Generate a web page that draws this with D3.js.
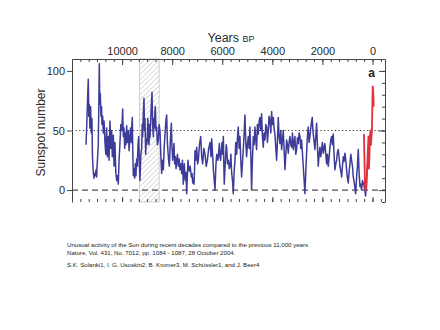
<!DOCTYPE html>
<html>
<head>
<meta charset="utf-8">
<script src="https://cdn.jsdelivr.net/npm/d3@7"></script>
<style>
  body { margin: 0; background: #fff; }
  text { font-family: "Liberation Sans", Arial, Helvetica, sans-serif; }
</style>
</head>
<body>
<svg id="chart" width="440" height="330"></svg>
<script>
// Sunspot number reconstructed from 14C, decadal, [years BP, sunspot number]
const reconstruction = [
  [11440,38],[11410,55],[11380,75],[11350,93],[11330,62],[11310,72],[11285,52],[11256,70],
  [11230,48],[11203,60],[11185,30],[11160,18],[11123,10],[11100,14],[11070,12],[11040,17],
  [11016,11],[10995,22],[10976,28],[10950,38],[10930,70],[10910,106],[10890,72],[10870,81],
  [10843,62],[10820,70],[10803,55],[10775,62],[10750,48],[10720,58],[10683,40],[10650,30],
  [10617,52],[10590,28],[10550,45],[10520,25],[10484,58],[10450,35],[10417,50],[10390,28],
  [10350,46],[10320,20],[10284,40],[10250,15],[10217,8],[10185,12],[10151,5],[10120,25],
  [10084,40],[10050,55],[10017,50],[9995,58],[9977,68],[9950,45],[9924,52],[9895,35],
  [9871,48],[9845,38],[9818,54],[9785,40],[9751,50],[9720,33],[9684,45],[9660,52],
  [9631,40],[9610,55],[9591,61],[9570,30],[9551,12],[9525,18],[9498,10],[9470,22],
  [9445,12],[9420,26],[9391,20],[9365,38],[9338,45],[9310,22],[9285,8],[9250,30],
  [9218,35],[9195,55],[9178,45],[9150,65],[9125,77],[9105,50],[9085,60],[9058,30],
  [9035,42],[9018,38],[8992,45],[8970,60],[8952,42],[8925,38],[8905,55],[8885,44],
  [8858,58],[8835,70],[8805,82],[8780,55],[8752,45],[8730,60],[8712,52],[8690,65],
  [8672,70],[8645,50],[8619,53],[8590,38],[8552,42],[8520,55],[8486,50],[8450,28],
  [8419,14],[8385,25],[8352,17],[8320,35],[8286,47],[8250,58],[8219,63],[8190,40],
  [8166,32],[8140,25],[8113,20],[8075,40],[8033,56],[8005,35],[7980,25],[7955,30],
  [7927,39],[7900,22],[7873,28],[7845,18],[7820,24],[7790,30],[7753,20],[7720,26],
  [7687,17],[7650,22],[7620,14],[7590,25],[7554,5],[7530,18],[7514,22],[7490,12],
  [7474,8],[7445,15],[7420,-3],[7395,10],[7367,25],[7340,18],[7314,16],[7280,20],
  [7234,11],[7205,14],[7180,6],[7150,10],[7127,5],[7105,18],[7087,33],[7055,25],
  [7020,36],[6985,22],[6954,25],[6910,38],[6860,45],[6820,28],[6780,22],[6735,35],
  [6687,30],[6640,20],[6594,25],[6540,35],[6487,40],[6450,28],[6421,43],[6385,30],
  [6354,17],[6320,8],[6288,0],[6255,20],[6221,30],[6170,25],[6115,39],[6090,28],
  [6061,25],[6030,35],[6008,40],[5980,30],[5955,45],[5935,20],[5920,5],[5890,18],
  [5860,30],[5840,38],[5821,35],[5790,22],[5755,25],[5720,18],[5688,20],[5655,30],
  [5626,15],[5590,8],[5559,-3],[5525,15],[5492,25],[5460,40],[5425,30],[5390,45],
  [5359,53],[5325,35],[5293,45],[5260,25],[5226,11],[5195,22],[5160,34],[5125,48],
  [5093,63],[5060,40],[5027,28],[4995,38],[4960,45],[4925,35],[4894,53],[4860,30],
  [4827,0],[4795,25],[4760,45],[4725,38],[4694,53],[4660,42],[4627,34],[4595,55],
  [4561,47],[4525,58],[4494,61],[4460,50],[4428,64],[4395,45],[4361,36],[4330,48],
  [4295,42],[4260,55],[4228,53],[4195,40],[4161,50],[4130,62],[4095,59],[4060,48],
  [4028,66],[3995,55],[3962,61],[3930,52],[3895,47],[3860,35],[3829,25],[3795,42],
  [3762,61],[3730,45],[3696,39],[3660,50],[3629,34],[3595,42],[3563,50],[3530,35],
  [3496,17],[3460,30],[3429,42],[3395,38],[3363,31],[3330,40],[3296,45],[3260,38],
  [3230,36],[3195,48],[3163,34],[3130,40],[3097,45],[3065,30],[3030,34],[2995,44],
  [2964,39],[2930,48],[2897,45],[2865,35],[2831,42],[2800,32],[2764,20],[2730,8],
  [2697,-3],[2665,15],[2631,31],[2600,45],[2564,53],[2530,40],[2498,45],[2450,55],
  [2405,61],[2385,52],[2365,47],[2330,40],[2298,34],[2265,45],[2232,56],[2200,38],
  [2165,20],[2130,30],[2098,36],[2065,28],[2032,34],[2000,40],[1965,31],[1930,36],
  [1899,39],[1865,30],[1832,22],[1800,30],[1766,20],[1730,28],[1699,36],[1665,42],
  [1633,45],[1600,38],[1566,47],[1535,30],[1500,17],[1465,22],[1433,25],[1400,32],
  [1366,34],[1335,28],[1300,20],[1265,16],[1233,11],[1200,20],[1167,28],[1135,24],
  [1100,31],[1065,25],[1034,17],[1000,10],[967,6],[935,15],[901,22],[865,30],
  [834,25],[800,20],[767,11],[720,5],[674,-3],[650,5],[634,11],[600,20],
  [568,34],[535,15],[501,3],[470,5],[435,0],[400,8],[368,6],[320,2],
  [275,-5],[250,3],[235,11],[200,20],[169,28],[135,35],[102,42],[70,38],
  [35,50],[20,52]
];

// Group sunspot number from telescope observations, [years BP, sunspot number]
const telescope = [
  [340,47],[320,25],[300,5],[280,0],[260,0],[240,3],[220,15],[200,25],
  [180,35],[160,45],[140,18],[120,30],[100,45],[80,50],[60,38],[40,45],
  [20,52],[0,78],[-10,87],[-30,82],[-50,70]
];

const yearLabels = [10000, 8000, 6000, 4000, 2000, 0];
const sunspotLabels = [0, 50, 100];
const sunspotMinor = [-10, 0, 10, 20, 30, 40, 50, 60, 70, 80, 90, 100, 110];
const hatchedSpan = [9300, 8520];

const caption = [
  "Unusual activity of the Sun during recent decades compared to the previous 11,000 years",
  "Nature, Vol. 431, No. 7012, pp. 1084 - 1087, 28 October 2004.",
  "S.K. Solanki1, I. G. Usoskin2, B. Kromer3, M. Schüssler1, and J. Beer4"
];

const svg = d3.select("#chart");
const L = 72, R = 385, T = 59, B = 202;
const axisColor = "#444";
const textColor = "#2a2a2a";

const x = d3.scaleLinear().domain([12000, -500]).range([L, R]);
const y = d3.scaleLinear().domain([-10, 110]).range([B, T]);

// minor year ticks: six steps between labelled ticks
const yearMinor = d3.range(-1, 37).map(k => k * 2000 / 6)
  .filter(v => v > -500 && v < 12000);

// hatched interval
const defs = svg.append("defs");
const pat = defs.append("pattern")
  .attr("id", "hatch").attr("patternUnits", "userSpaceOnUse")
  .attr("width", 3.6).attr("height", 3.6)
  .attr("patternTransform", "rotate(45)");
pat.append("line").attr("x1", 0).attr("y1", 0).attr("x2", 0).attr("y2", 3.6)
  .attr("stroke", "#b8b8b8").attr("stroke-width", 1);

defs.append("clipPath").attr("id", "plot")
  .append("rect").attr("x", L).attr("y", T).attr("width", R - L).attr("height", B - T);

svg.append("rect")
  .attr("x", x(hatchedSpan[0])).attr("y", T)
  .attr("width", x(hatchedSpan[1]) - x(hatchedSpan[0])).attr("height", B - T)
  .attr("fill", "url(#hatch)").attr("stroke", "#c4c4c4").attr("stroke-width", 0.8);

// reference levels
svg.append("line").attr("x1", L).attr("x2", R).attr("y1", y(50)).attr("y2", y(50))
  .attr("stroke", "#333").attr("stroke-width", 1).attr("stroke-dasharray", "1.2,2.4");
svg.append("line").attr("x1", L).attr("x2", R).attr("y1", y(0)).attr("y2", y(0))
  .attr("stroke", "#222").attr("stroke-width", 1).attr("stroke-dasharray", "6,4");

// series
const line = d3.line().x(d => x(d[0])).y(d => y(d[1]));
const g = svg.append("g").attr("clip-path", "url(#plot)");
g.append("path").datum(reconstruction).attr("d", line)
  .attr("fill", "none").attr("stroke", "#3d3c99").attr("stroke-width", 1.5)
  .attr("stroke-linejoin", "round");
g.append("path").datum(telescope).attr("d", line)
  .attr("fill", "none").attr("stroke", "#e0313c").attr("stroke-width", 1.8)
  .attr("stroke-linejoin", "round");

// axes
function styleAxis(sel) {
  sel.selectAll("line").attr("stroke", axisColor);
  sel.selectAll("path.domain").attr("stroke", axisColor);
  sel.selectAll("text").attr("fill", textColor)
    .style("font-family", '"Liberation Sans", Arial, sans-serif');
}

// top: labelled, ticks pointing inward
svg.append("g").attr("transform", `translate(0,${T})`)
  .call(d3.axisTop(x).tickValues(yearMinor).tickSize(-3).tickFormat("").tickSizeOuter(0))
  .call(styleAxis);
svg.append("g").attr("transform", `translate(0,${T})`)
  .call(d3.axisTop(x).tickValues(yearLabels).tickSize(-6).tickPadding(4).tickSizeOuter(0)
    .tickFormat(d3.format("d")))
  .call(s => s.select(".domain").remove())
  .call(styleAxis)
  .selectAll("text").style("font-size", "11px");

// bottom: ticks only
svg.append("g").attr("transform", `translate(0,${B})`)
  .call(d3.axisBottom(x).tickValues(yearMinor).tickSize(-3).tickFormat(""))
  .call(s => s.select(".domain").remove())
  .call(styleAxis);
svg.append("g").attr("transform", `translate(0,${B})`)
  .call(d3.axisBottom(x).tickValues(yearLabels).tickSize(-5).tickFormat(""))
  .call(s => s.select(".domain").remove())
  .call(styleAxis);

// left: outward ticks at labelled values
svg.append("g").attr("transform", `translate(${L},0)`)
  .call(d3.axisLeft(y).tickValues(sunspotLabels).tickSize(5).tickPadding(2).tickSizeOuter(0))
  .call(styleAxis)
  .selectAll("text").style("font-size", "11px");

// right: inward ticks every 10
svg.append("g").attr("transform", `translate(${R},0)`)
  .call(d3.axisRight(y).tickValues(sunspotMinor).tickSize(-3).tickFormat("").tickSizeOuter(0))
  .call(styleAxis);
svg.append("g").attr("transform", `translate(${R},0)`)
  .call(d3.axisRight(y).tickValues(sunspotLabels).tickSize(-6).tickFormat(""))
  .call(s => s.select(".domain").remove())
  .call(styleAxis);

// titles
const title = svg.append("text").attr("x", 231).attr("y", 42)
  .attr("text-anchor", "middle").attr("fill", textColor);
title.append("tspan").style("font-size", "12.5px").text("Years ");
title.append("tspan").style("font-size", "9px").text("BP");

svg.append("text")
  .attr("transform", `translate(45,${(y(0) + y(100)) / 2 + 2}) rotate(-90)`)
  .attr("text-anchor", "middle").attr("fill", textColor)
  .style("font-size", "12px").text("Sunspot number");

svg.append("text").attr("x", 371.5).attr("y", 76.5).attr("text-anchor", "middle")
  .attr("fill", "#222").style("font-size", "12px").style("font-weight", "bold").text("a");

// citation
svg.append("g").selectAll("text").data(caption).join("text")
  .attr("x", 67).attr("y", (d, i) => [247, 255, 267][i])
  .attr("fill", "#222").style("font-size", "6.1px").text(d => d);
</script>
</body>
</html>
